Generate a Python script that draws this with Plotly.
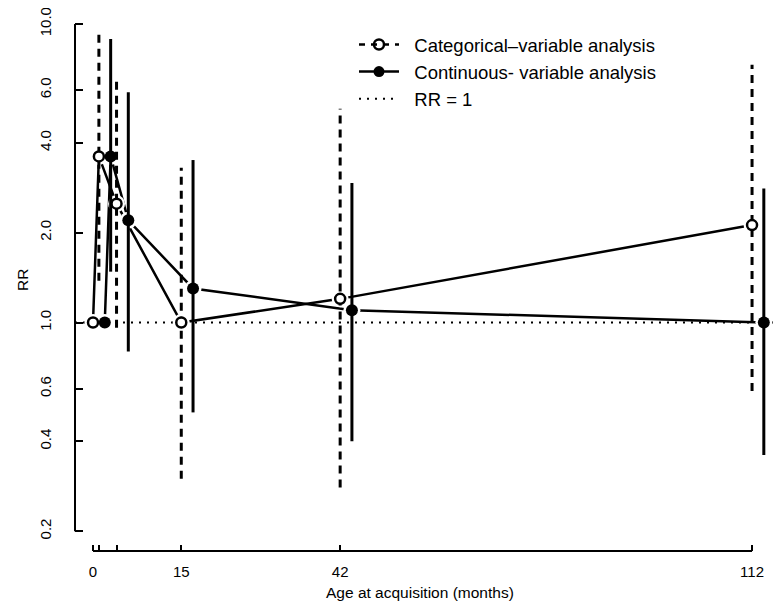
import plotly.graph_objects as go

# ---------------- data ----------------
ages = [0, 1, 4, 15, 42, 112]                 # age at acquisition (months)
cat_rr = [1.0, 3.6, 2.5, 1.0, 1.2, 2.12]       # categorical-variable analysis
cat_lo = [None, 1.38, 0.96, 0.30, 0.28, 0.59]
cat_hi = [None, 9.4, 6.7, 3.3, 5.2, 7.3]
con_rr = [1.0, 3.6, 2.2, 1.3, 1.1, 1.0]        # continuous-variable analysis
con_lo = [None, 1.48, 0.80, 0.50, 0.40, 0.36]
con_hi = [None, 8.9, 5.9, 3.5, 2.93, 2.81]

y_ticks = [0.2, 0.4, 0.6, 1.0, 2.0, 4.0, 6.0, 10.0]
y_tick_labels = ["0.2", "0.4", "0.6", "1.0", "2.0", "4.0", "6.0", "10.0"]
x_ticks = [0, 1, 4, 15, 42, 112]
x_tick_labels = ["0", "", "", "15", "42", "112"]

legend_names = ["Categorical\u2013variable analysis",
                "Continuous- variable analysis",
                "RR = 1"]
x_title = "Age at acquisition (months)"
y_title = "RR"

# horizontal dodge of the continuous series (display offset)
CONT_OFFSET = 2
con_x = [a + CONT_OFFSET for a in ages]

FONT = "Liberation Sans, Arial, Helvetica, sans-serif"
BLACK = "black"
PAD = "\u00a0\u00a0"
Y_RANGE = [-0.7652, 1.0298]


def ci_segments(xs, lo, hi):
    sx, sy = [], []
    for x, l, h in zip(xs, lo, hi):
        if l is None or h is None:
            continue
        sx += [x, x, None]
        sy += [l, h, None]
    return sx, sy


fig = go.Figure()

# connecting lines (type "b")
for xs, ys in [(ages, cat_rr), (con_x, con_rr)]:
    fig.add_trace(go.Scatter(x=xs, y=ys, mode="lines",
                             line=dict(color=BLACK, width=2.5),
                             showlegend=False, hoverinfo="skip"))
# white halos to create gaps around the points
for xs, ys in [(ages, cat_rr), (con_x, con_rr)]:
    fig.add_trace(go.Scatter(x=xs, y=ys, mode="markers",
                             marker=dict(color="white", size=17, line=dict(width=0)),
                             showlegend=False, hoverinfo="skip"))
# confidence intervals
sx, sy = ci_segments(ages, cat_lo, cat_hi)
fig.add_trace(go.Scatter(x=sx, y=sy, mode="lines",
                         line=dict(color=BLACK, width=3, dash="8px,6px"),
                         showlegend=False, hoverinfo="skip"))
sx, sy = ci_segments(con_x, con_lo, con_hi)
fig.add_trace(go.Scatter(x=sx, y=sy, mode="lines",
                         line=dict(color=BLACK, width=3),
                         showlegend=False, hoverinfo="skip"))
# points
fig.add_trace(go.Scatter(x=ages, y=cat_rr, mode="markers",
                         marker=dict(symbol="circle", size=10, color="white",
                                     line=dict(color=BLACK, width=2.5)),
                         showlegend=False))
fig.add_trace(go.Scatter(x=con_x, y=con_rr, mode="markers",
                         marker=dict(symbol="circle", size=12, color=BLACK,
                                     line=dict(color=BLACK, width=0)),
                         showlegend=False))

# legend entries
fig.add_trace(go.Scatter(x=[None], y=[None], mode="lines+markers",
                         name=PAD + legend_names[0], legendrank=1,
                         line=dict(color=BLACK, width=2.5, dash="6px,6px"),
                         marker=dict(symbol="circle-open", size=10, color=BLACK,
                                     line=dict(color=BLACK, width=2.5))))
fig.add_trace(go.Scatter(x=[None], y=[None], mode="lines+markers",
                         name=PAD + legend_names[1], legendrank=2,
                         line=dict(color=BLACK, width=2.5),
                         marker=dict(symbol="circle", size=11, color=BLACK)))

# RR = 1 reference line
fig.add_shape(type="line", xref="paper", x0=0, x1=1, yref="y", y0=1, y1=1,
              line=dict(color=BLACK, width=2, dash="2px,6px"), layer="below",
              showlegend=True, name=PAD + legend_names[2], legendrank=3)

# R-style axis lines (spanning first to last tick only)
fig.add_shape(type="line", xref="paper", x0=0, x1=0, yref="y",
              y0=min(y_ticks), y1=max(y_ticks), line=dict(color=BLACK, width=2))
fig.add_shape(type="line", yref="paper", y0=0, y1=0, xref="x",
              x0=min(x_ticks), x1=max(x_ticks), line=dict(color=BLACK, width=2))

# axis titles
fig.add_annotation(text=x_title, xref="paper", yref="paper",
                   x=(412 - 67) / 700, y=(543 - 584) / 536,
                   xanchor="center", yanchor="middle", showarrow=False,
                   font=dict(size=15.5, family=FONT, color=BLACK))
fig.add_annotation(text=y_title, xref="paper", yref="paper",
                   x=(14 - 67) / 700, y=(543 - 272) / 536, textangle=-90,
                   xanchor="center", yanchor="middle", showarrow=False,
                   font=dict(size=15.5, family=FONT, color=BLACK))

fig.update_layout(
    template="none",
    width=776, height=603,
    margin=dict(l=67, r=9, t=7, b=60, autoexpand=False),
    paper_bgcolor="white", plot_bgcolor="white",
    font=dict(family=FONT, size=15, color=BLACK),
    legend=dict(x=(346 - 67) / 700, y=(543 - 18) / 536, xanchor="left", yanchor="top",
                bgcolor="rgba(0,0,0,0)", font=dict(size=18.5, family=FONT),
                itemwidth=40, traceorder="normal"),
    xaxis=dict(range=[-3.06, 115.9], showgrid=False, zeroline=False, showline=False,
               automargin=False,
               tickmode="array", tickvals=x_ticks, ticktext=x_tick_labels,
               ticks="inside", ticklen=6, tickwidth=2, tickcolor=BLACK,
               ticklabelstandoff=10, ticklabeloverflow="allow"),
    yaxis=dict(type="log", range=Y_RANGE, showgrid=False, zeroline=False,
               showline=False, automargin=False,
               tickmode="array", tickvals=y_ticks, ticktext=y_tick_labels,
               ticks="inside", ticklen=8, tickwidth=2, tickcolor=BLACK,
               tickangle=-90, ticklabelstandoff=20, ticklabeloverflow="allow",
               tickfont=dict(size=15, family=FONT, color=BLACK)),
)

fig.write_html("out.html")
